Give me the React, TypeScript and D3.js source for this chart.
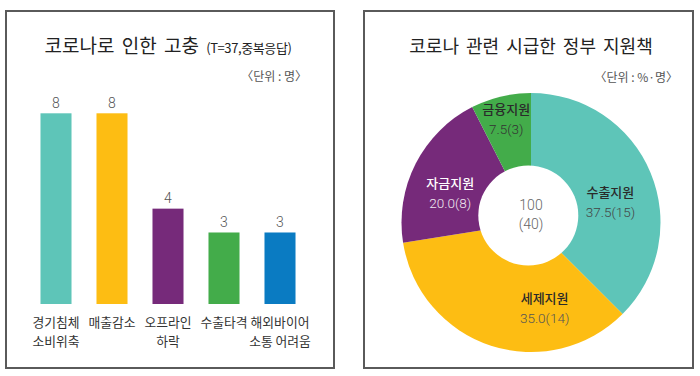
import React from "react";
import * as d3 from "d3";

// ---- data ----
const barCategories = ["경기침체\n소비위축", "매출감소", "오프라인\n하락", "수출타격", "해외바이어\n소통 어려움"];
const barValues = [8, 8, 4, 3, 3];
const barColors = ["#5EC5B8", "#FDBD13", "#762A7A", "#43AC4A", "#0A7BC2"];

const pieCategories = ["수출지원", "세제지원", "자금지원", "금융지원"];
const piePercents = [37.5, 35.0, 20.0, 7.5];
const pieCounts = [15, 14, 8, 3];
const pieColors = ["#5EC5B8", "#FDBD13", "#762A7A", "#43AC4A"];
const pieTotalPct = 100;
const pieTotalCount = 40;

// ---- layout (not data) ----
const W = 700, H = 376;
const KR = "'Noto Sans CJK KR', 'Noto Sans', sans-serif";
const NUM = "Roboto, 'Noto Sans', sans-serif";
// label placement: [angle offset deg from slice mid, radius]
const pieLabelPlace = [[8, 82], [-27, 87], [-7, 86], [0, 106]];
const pieNameColors = ["#2a2a2a", "#2a2a2a", "#ffffff", "#2a2a2a"];
const pieValueColors = ["#444", "#555", "#f0e8f0", "#333"];

export default function App() {
  // bar chart
  const x = d3.scaleBand<string>().domain(barCategories).range([28, 308]).paddingInner(0.446).paddingOuter(0.223);
  const y = d3.scaleLinear().domain([0, 8]).range([304, 113.3]);

  // pie
  const cx = 531, cy = 222.5, R = 129.5;
  const pie = d3.pie<number>().sort(null).value((d) => d)(piePercents);
  const arc = d3.arc<d3.PieArcDatum<number>>().innerRadius(0).outerRadius(R);
  const holeCx = 528.3, holeCy = 215.5, holeR = 50;

  return (
    <svg width={W} height={H} style={{ position: "absolute", left: 0, top: 0, display: "block", background: "#fff" }}>
      {/* panels */}
      <rect x={6} y={11} width={328} height={357} fill="#fff" stroke="#5a5a5a" strokeWidth={2} />
      <rect x={364} y={11} width={329} height={357} fill="#fff" stroke="#5a5a5a" strokeWidth={2} />

      {/* left title */}
      <text x={168} y={53} textAnchor="middle" fontFamily={KR} fill="#222" wordSpacing={3}>
        <tspan fontSize={19}>코로나로 인한 고충 </tspan>
        <tspan fontSize={13} letterSpacing={-0.4}>(T=37,중복응답)</tspan>
      </text>
      <text x={307} y={80.5} textAnchor="end" fontFamily={KR} fontSize={12} fill="#555">〈단위 : 명〉</text>

      {/* bars */}
      {barValues.map((v, i) => {
        const c = barCategories[i];
        const bx = x(c)!;
        const bw = x.bandwidth();
        return (
          <g key={c}>
            <rect x={bx} y={y(v)} width={bw} height={y(0) - y(v)} fill={barColors[i]} />
            <text x={bx + bw / 2} y={y(v) - 5.5} textAnchor="middle" fontFamily={NUM} fontSize={14} fontWeight={300} fill="#555">{v}</text>
            {c.split("\n").map((line, j) => (
              <text key={j} x={bx + bw / 2} y={326.5 + j * 19} textAnchor="middle" fontFamily={KR} fontSize={12.8} fill="#333">{line}</text>
            ))}
          </g>
        );
      })}

      {/* right title */}
      <text x={531} y={52.5} textAnchor="middle" fontFamily={KR} fontSize={18} fill="#222" wordSpacing={3}>코로나 관련 시급한 정부 지원책</text>
      <text x={678} y={81.5} textAnchor="end" fontFamily={KR} fontSize={12} fill="#555">〈단위 : %·명〉</text>

      {/* pie */}
      <g transform={`translate(${cx},${cy})`}>
        {pie.map((p, i) => (
          <path key={i} d={arc(p)!} fill={pieColors[i]} />
        ))}
      </g>
      <circle cx={holeCx} cy={holeCy} r={holeR} fill="#fff" />
      {pie.map((p, i) => {
        const mid = (p.startAngle + p.endAngle) / 2 + (pieLabelPlace[i][0] * Math.PI) / 180;
        const r = pieLabelPlace[i][1];
        const lx = cx + r * Math.sin(mid);
        const ly = cy - r * Math.cos(mid);
        return (
          <g key={i}>
            <text x={lx} y={ly - 5} textAnchor="middle" fontFamily={KR} fontSize={13} fontWeight={500} fill={pieNameColors[i]}>{pieCategories[i]}</text>
            <text x={lx} y={ly + 15} textAnchor="middle" fontFamily={NUM} fontSize={13.5} fontWeight={300} fill={pieValueColors[i]}>
              {`${piePercents[i].toFixed(1)}(${pieCounts[i]})`}
            </text>
          </g>
        );
      })}
      <text x={cx} y={210} textAnchor="middle" fontFamily={NUM} fontSize={14} fontWeight={300} fill="#666">{pieTotalPct}</text>
      <text x={cx} y={228.5} textAnchor="middle" fontFamily={NUM} fontSize={14} fontWeight={300} fill="#666">{`(${pieTotalCount})`}</text>
    </svg>
  );
}
